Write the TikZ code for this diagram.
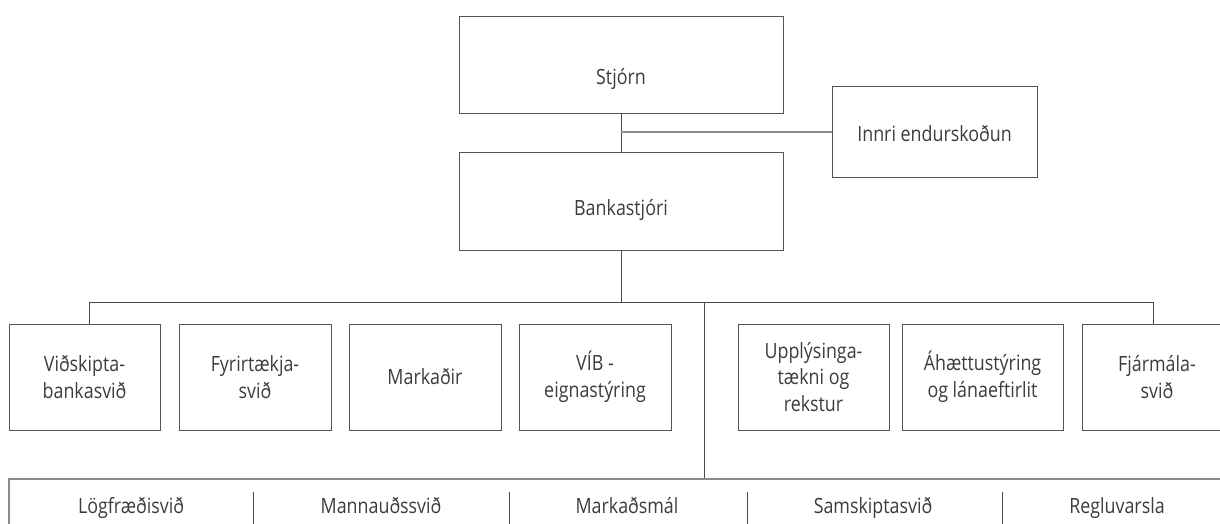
\documentclass[tikz,border=0pt]{standalone}
\usepackage{fontspec}
\setmainfont{Open Sans}[FakeStretch=0.85]
\definecolor{boxc}{HTML}{555555}
\definecolor{linec}{HTML}{4A4A4A}
\definecolor{lightc}{HTML}{8C8C8C}
\definecolor{txtc}{HTML}{3C3C3C}
\tikzset{
  orgbox/.style={draw=boxc, line width=1pt, rectangle, inner sep=0pt, align=center,
    text=txtc, font=\fontsize{21}{26.7}\selectfont},
  conn/.style={draw=linec, line width=1pt},
  lightconn/.style={draw=lightc, line width=1.5pt},
  bartxt/.style={anchor=base, text=txtc, inner sep=0pt, font=\fontsize{21}{26.7}\selectfont},
  sep/.style={draw=linec, line width=1pt}
}
\begin{document}
\begin{tikzpicture}[x=1pt,y=-1pt]
\clip (0,0) rectangle (1220,524);
\fill[white] (0,0) rectangle (1220,524);
% top
\node[orgbox, minimum width=324pt, minimum height=97pt, text height=39pt, text depth=0pt] (stj) at (621,65.5) {Stjórn};
\node[orgbox, minimum width=324pt, minimum height=98pt, text height=28pt, text depth=0pt] (bank) at (621,201) {Bankastjóri};
\node[orgbox, minimum width=205pt, minimum height=90pt, text height=20pt, text depth=0pt] (innri) at (934.5,132) {Innri endurskoðun};
% divisions
\node[orgbox, minimum width=151pt, minimum height=106pt] (d1) at (84.5,377) {Viðskipta-\\bankasvið};
\node[orgbox, minimum width=152pt, minimum height=106pt] (d2) at (255,377) {Fyrirtækja-\\svið};
\node[orgbox, minimum width=152pt, minimum height=106pt] (d3) at (425,377) {Markaðir};
\node[orgbox, minimum width=152pt, minimum height=106pt] (d4) at (595,377) {VÍB -\\eignastýring};
\node[orgbox, minimum width=151pt, minimum height=106pt] (d5) at (813.5,377) {Upplýsinga-\\tækni og\\rekstur};
\node[orgbox, minimum width=161pt, minimum height=106pt] (d6) at (982.5,377) {Áhættustýring\\og lánaeftirlit};
\node[orgbox, minimum width=150pt, minimum height=106pt] (d7) at (1157,377) {Fjármála-\\svið};
% bottom bar
\node[draw=lightc, line width=1.5pt, rectangle, inner sep=0pt, minimum width=1231pt, minimum height=61pt] (bar) at (624.5,509.5) {};
\node[bartxt] (t1) at (131,513) {Lögfræðisvið};
\node[bartxt] (t2) at (381,513) {Mannauðssvið};
\node[bartxt] (t3) at (627,513) {Markaðsmál};
\node[bartxt] (t4) at (873,513) {Samskiptasvið};
\node[bartxt] (t5) at (1117,513) {Regluvarsla};
\coordinate (s1) at (253,492);
\coordinate (s2) at (509,492);
\coordinate (s3) at (747,492);
\coordinate (s4) at (1002,492);
\foreach \s in {s1,s2,s3,s4} \draw[sep] (\s) -- ++(0,32);
% connectors
\draw[conn] (stj.south) -- (bank.north);
\draw[lightconn] (stj.south |- innri.west) -- (innri.west);
\coordinate (jl) at (89,302);
\coordinate (jr) at (1153,302);
\coordinate (jm) at (704,302);
\draw[conn] (bank.south) -- (bank.south |- jl);
\draw[conn] (jl) -- (jr);
\draw[conn] (jl) -- (jl |- d1.north);
\draw[conn] (jr) -- (jr |- d7.north);
\draw[conn] (jm) -- (jm |- bar.north);
\end{tikzpicture}
\end{document}
